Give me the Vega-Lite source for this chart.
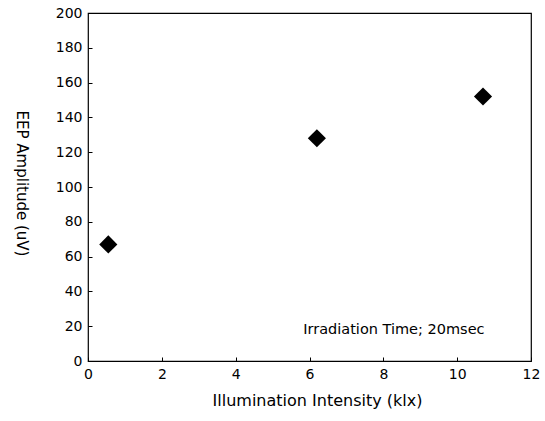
{
  "$schema": "https://vega.github.io/schema/vega-lite/v6.json",
  "width": 443,
  "height": 348,
  "autosize": "none",
  "padding": {"left": 88, "top": 13, "right": 14, "bottom": 60},
  "background": "white",
  "config": {
    "view": {"stroke": "black", "strokeWidth": 1.2},
    "font": "DejaVu Sans",
    "axis": {
      "grid": false,
      "domain": false,
      "tickColor": "black",
      "tickSize": -4,
      "labelColor": "black",
      "labelFont": "DejaVu Sans",
      "labelFontSize": 14,
      "labelOverlap": false,
      "titleColor": "black",
      "titleFont": "DejaVu Sans",
      "titleFontSize": 15,
      "titleFontWeight": "normal"
    }
  },
  "encoding": {
    "x": {"field": "intensity", "type": "quantitative", "scale": {"domain": [0, 12], "nice": false},
      "axis": {"values": [0, 2, 4, 6, 8, 10, 12], "title": "Illumination Intensity (klx)", "labelPadding": 10,
        "labelOverlap": false, "labelFlush": false,
        "titleFontSize": 16, "titleX": 229, "titleY": 39, "titleBaseline": "middle", "titleAlign": "center"}},
    "y": {"field": "amplitude", "type": "quantitative", "scale": {"domain": [0, 200], "nice": false},
      "axis": {"values": [0, 20, 40, 60, 80, 100, 120, 140, 160, 180, 200], "title": "EEP Amplitude (uV)", "labelPadding": 10,
        "labelOverlap": false, "labelFlush": false, "labelBound": false,
        "titleAngle": 90, "titleX": -67, "titleY": 170, "titleBaseline": "middle", "titleAlign": "center"}}
  },
  "layer": [
    {
      "data": {"values": [
        {"intensity": 0.55, "amplitude": 67},
        {"intensity": 6.2, "amplitude": 128},
        {"intensity": 10.7, "amplitude": 152}
      ]},
      "mark": {"type": "point", "shape": "diamond", "filled": true, "color": "black", "opacity": 1, "size": 330}
    },
    {
      "data": {"values": [{"intensity": 5.83, "amplitude": 17.8, "label": "Irradiation Time; 20msec"}]},
      "mark": {"type": "text", "align": "left", "baseline": "middle", "fontSize": 14.5, "color": "black"},
      "encoding": {
        "text": {"field": "label"}
      }
    }
  ]
}
